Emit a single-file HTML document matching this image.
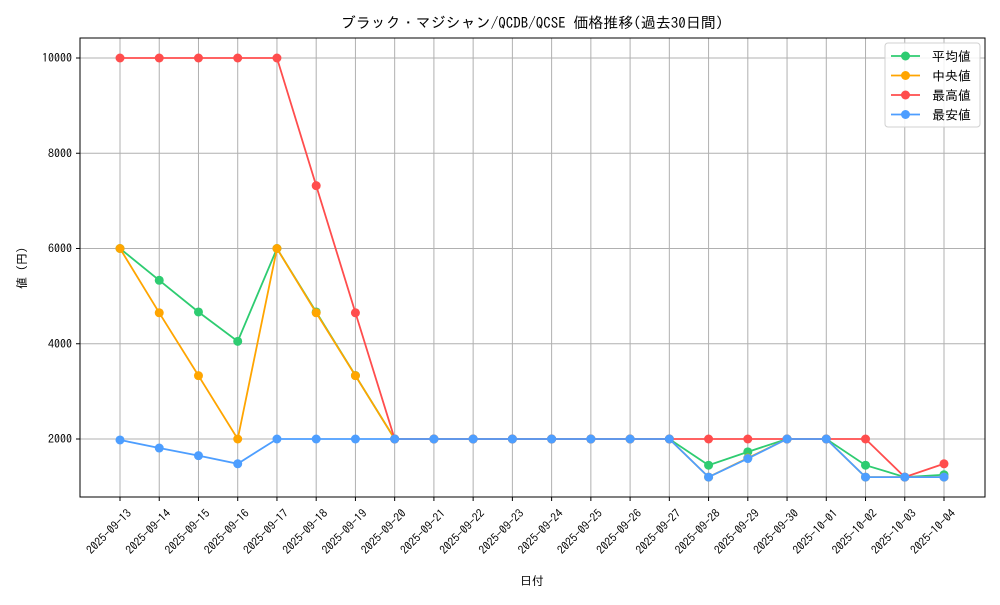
<!DOCTYPE html>
<html><head><meta charset="utf-8"><style>
body{margin:0;background:#fff;}
svg text{font-family:"IPAGothic","Noto Sans CJK JP",sans-serif;fill:#000;}
</style></head><body>
<svg id="chart" width="1000" height="600" xmlns="http://www.w3.org/2000/svg"></svg>
<script>
const dates=["2025-09-13","2025-09-14","2025-09-15","2025-09-16","2025-09-17","2025-09-18","2025-09-19","2025-09-20","2025-09-21","2025-09-22","2025-09-23","2025-09-24","2025-09-25","2025-09-26","2025-09-27","2025-09-28","2025-09-29","2025-09-30","2025-10-01","2025-10-02","2025-10-03","2025-10-04"];
const avgVals=[6000,5333,4667,4050,6000,4667,3333,2000,2000,2000,2000,2000,2000,2000,2000,1450,1730,2000,2000,1450,1200,1250];
const medVals=[6000,4650,3330,2000,6000,4650,3330,2000,2000,2000,2000,2000,2000,2000,2000,1200,1600,2000,2000,1200,1200,1200];
const maxVals=[10000,10000,10000,10000,10000,7320,4650,2000,2000,2000,2000,2000,2000,2000,2000,2000,2000,2000,2000,2000,1200,1480];
const minVals=[1980,1810,1650,1480,2000,2000,2000,2000,2000,2000,2000,2000,2000,2000,2000,1200,1590,2000,2000,1200,1200,1200];
const yTicks=[2000,4000,6000,8000,10000];
const series=[["平均値",avgVals,"#2ecc71","avg"],["中央値",medVals,"#ffa500","median"],["最高値",maxVals,"#ff4d4d","max"],["最安値",minVals,"#4d9eff","min"]];
const L=80,R=985,T=38,B=497;
const x=i=>120+i*(944-120)/(dates.length-1);
const y=v=>439-(v-2000)*(381/8000);
const svg=document.getElementById('chart');
const NS="http://www.w3.org/2000/svg";
function mk(t,a,p){const e=document.createElementNS(NS,t);for(const k in a)e.setAttribute(k,a[k]);(p||svg).appendChild(e);return e;}
dates.forEach((d,i)=>{const g=mk('line',{x1:x(i),x2:x(i),y1:T,y2:B,stroke:'#b0b0b0','stroke-width':1});


const tk=mk('line',{x1:x(i),x2:x(i),y1:B,y2:B+4,stroke:'#000'});


const ax=x(i)+7,ay=B+12;
const t=mk('text',{x:ax,y:ay,'font-size':11.5,'text-anchor':'end',transform:`rotate(-45 ${ax} ${ay})`,'dominant-baseline':'hanging'});t.textContent=d;

});
yTicks.forEach(v=>{const g=mk('line',{x1:L,x2:R,y1:y(v),y2:y(v),stroke:'#b0b0b0'});


const tk=mk('line',{x1:L-4,x2:L,y1:y(v),y2:y(v),stroke:'#000'});


const t=mk('text',{x:L-8,y:y(v)+4,'font-size':12,'text-anchor':'end'});t.textContent=v;

});
series.forEach(s=>{const g=mk('g',{});


mk('polyline',{points:s[1].map((v,i)=>x(i)+','+y(v)).join(' '),fill:'none',stroke:s[2],'stroke-width':1.8},g);
s[1].forEach((v,i)=>{const c=mk('circle',{cx:x(i),cy:y(v),r:4.5,fill:s[2]},g);

});});
const f=mk('rect',{x:L,y:T,width:R-L,height:B-T,fill:'none',stroke:'#000','stroke-width':1});


const lg=mk('g',{});


mk('rect',{x:885,y:43,width:95,height:84,rx:3,fill:'#fff','fill-opacity':0.85,stroke:'#d0d0d0'},lg);
series.forEach((s,i)=>{const yy=56+i*19.5;
const e=mk('g',{},lg);


mk('line',{x1:891,x2:920,y1:yy,y2:yy,stroke:s[2],'stroke-width':1.8},e);
mk('circle',{cx:905.5,cy:yy,r:4.5,fill:s[2]},e);
const t=mk('text',{x:932,y:yy+5,'font-size':13},e);t.textContent=s[0];});
</script>
<svg style="position:absolute;left:0;top:0" width="1000" height="600" xmlns="http://www.w3.org/2000/svg">
<text x="532" y="28" font-size="15" text-anchor="middle">ブラック・マジシャン/QCDB/QCSE 価格推移(過去30日間)</text>
<text x="532" y="585" font-size="12" text-anchor="middle">日付</text>
<text x="26" y="268" font-size="12" text-anchor="middle" transform="rotate(-90 26 268)">値 (円)</text>
</svg>
</body></html>
